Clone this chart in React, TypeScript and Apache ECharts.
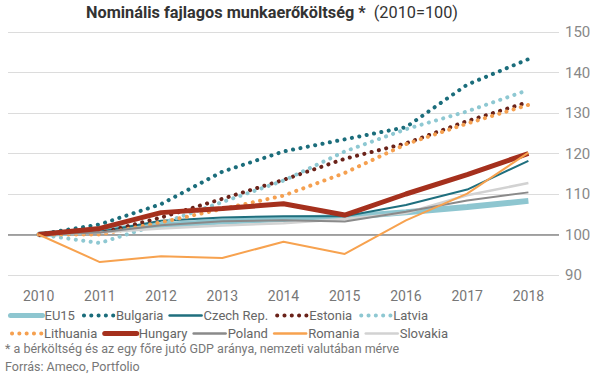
import React, { useEffect, useRef } from "react";
import * as echarts from "echarts";

const years = ["2010", "2011", "2012", "2013", "2014", "2015", "2016", "2017", "2018"];
const eu15 = [100, 101, 102.3, 103.2, 103.8, 104.3, 105.5, 106.8, 108.3];
const bulgaria = [100, 102.5, 107.5, 115.5, 120.5, 123.5, 126.5, 137, 143.3];
const czech = [100, 100.7, 103.4, 104.2, 104.5, 104.5, 107.3, 111.1, 118.2];
const estonia = [100, 100.3, 104.2, 108.8, 113.5, 118.7, 122.5, 128, 132.7];
const latvia = [100, 97.9, 102.7, 108, 113.3, 120.5, 126, 130.4, 135.7];
const lithuania = [100, 100, 103, 106.3, 109.6, 115.2, 122.3, 127.4, 132];
const hungary = [100, 101.5, 105.4, 106.4, 107.6, 104.8, 110, 114.8, 120];
const poland = [100, 100.5, 102.3, 103.3, 103.5, 103.2, 105.6, 108.4, 110.4];
const romania = [100, 93.2, 94.6, 94.2, 98.2, 95.2, 103.5, 110.1, 120.2];
const slovakia = [100, 100.5, 101.5, 102.2, 102.8, 103.8, 105.3, 109.7, 112.7];

const yTicks = { min: 90, max: 150, interval: 10 };
const titleBold = "Nominális fajlagos munkaerőköltség *";
const titleNormal = "(2010=100)";
const footnote = "* a bérköltség és az egy főre jutó GDP aránya, nemzeti valutában mérve";
const source = "Forrás: Ameco, Portfolio";

const FONT = "Roboto, sans-serif";

const dotted = [0.1, 7.4];

type S = { name: string; data: number[]; color: string; width: number; legendWidth: number; dot?: boolean };
const seriesDefs: S[] = [
  { name: "EU15", data: eu15, color: "#8ec6d0", width: 6, legendWidth: 5 },
  { name: "Bulgaria", data: bulgaria, color: "#1b6d7b", width: 4, legendWidth: 4, dot: true },
  { name: "Czech Rep.", data: czech, color: "#1f6f7e", width: 2, legendWidth: 2.5 },
  { name: "Estonia", data: estonia, color: "#6a2219", width: 4, legendWidth: 4, dot: true },
  { name: "Latvia", data: latvia, color: "#8ec8d2", width: 4, legendWidth: 4, dot: true },
  { name: "Lithuania", data: lithuania, color: "#f5a050", width: 4, legendWidth: 4, dot: true },
  { name: "Slovakia", data: slovakia, color: "#d2d2d2", width: 2.5, legendWidth: 2.5 },
  { name: "Poland", data: poland, color: "#8a8a8a", width: 2, legendWidth: 2.5 },
  { name: "Hungary", data: hungary, color: "#a5301d", width: 5, legendWidth: 5 },
  { name: "Romania", data: romania, color: "#f7a24f", width: 2, legendWidth: 2.5 },
];

const row1 = ["EU15", "Bulgaria", "Czech Rep.", "Estonia", "Latvia"];
const row2 = ["Lithuania", "Hungary", "Poland", "Romania", "Slovakia"];

const legendItems = (names: string[]) =>
  names.map((n) => {
    const s = seriesDefs.find((d) => d.name === n)!;
    return {
      name: n,
      lineStyle: {
        width: s.legendWidth,
        color: s.color,
        type: s.dot ? [0.1, 7.2] : "solid",
        cap: "round",
        dashOffset: s.dot ? -2 : 0,
      },
    };
  });

export default function App() {
  const ref = useRef<HTMLDivElement>(null);
  useEffect(() => {
    if (!ref.current) return;
    const chart = echarts.init(ref.current, null, { renderer: "svg" });
    const legendBase = {
      left: 8,
      orient: "horizontal",
      itemWidth: 32,
      itemHeight: 12,
      itemGap: 5,
      padding: 0,
      selectedMode: false,
      itemStyle: { color: "transparent", borderWidth: 0, opacity: 0 },
      textStyle: { color: "#666", fontSize: 13, fontFamily: FONT, width: 62, padding: [0, 0, 0, -3] },
    };
    chart.setOption({
      animation: false,
      backgroundColor: "#fff",
      grid: { left: 8, right: 48, top: 32, bottom: 105, containLabel: false },
      xAxis: {
        type: "category",
        data: years,
        boundaryGap: true,
        axisLine: { show: false },
        axisTick: { show: false },
        axisLabel: { color: "#777", fontSize: 14, fontFamily: FONT, margin: 14 },
      },
      yAxis: {
        type: "value",
        position: "right",
        min: yTicks.min,
        max: yTicks.max,
        interval: yTicks.interval,
        axisLine: { show: false },
        axisTick: { show: false },
        axisLabel: { color: "#888", fontSize: 15, fontFamily: FONT, margin: 6 },
        splitLine: { lineStyle: { color: "#dcdcdc", width: 1 } },
      },
      legend: [
        { ...legendBase, top: 309, data: legendItems(row1) },
        { ...legendBase, top: 327, data: legendItems(row2) },
      ],
      series: seriesDefs.map((s, i) => ({
        name: s.name,
        type: "line",
        data: s.data,
        symbol: "none",
        showSymbol: false,
        z: 2 + i,
        lineStyle: {
          color: s.color,
          width: s.width,
          type: s.dot ? dotted : "solid",
          cap: s.dot ? "round" : "butt",
        },
        itemStyle: { color: s.color },
        ...(i === 0
          ? {
              markLine: {
                silent: true,
                symbol: ["none", "none"],
                label: { show: false },
                lineStyle: { color: "#8a8a8a", width: 1.5, type: "solid" },
                data: [{ yAxis: 100 }],
                z: 1,
              },
            }
          : {}),
      })),
      graphic: [
        {
          type: "text",
          left: 86,
          top: 4,
          style: {
            text: `{b|${titleBold}}{n|  ${titleNormal}}`,
            rich: {
              b: { fontFamily: FONT, fontSize: 16.3, fontWeight: "bold", fill: "#333", color: "#333" },
              n: { fontFamily: FONT, fontSize: 16.3, fill: "#333", color: "#333" },
            },
          },
        },
        {
          type: "text",
          left: 5,
          top: 342,
          style: { text: footnote, fontFamily: FONT, fontSize: 12.5, fill: "#777" },
        },
        {
          type: "text",
          left: 5,
          top: 360,
          style: { text: source, fontFamily: FONT, fontSize: 12.5, fill: "#777" },
        },
      ],
    });
    return () => chart.dispose();
  }, []);
  return (
    <div
      ref={ref}
      style={{ position: "fixed", left: 0, top: 0, width: 607, height: 380 }}
    />
  );
}
